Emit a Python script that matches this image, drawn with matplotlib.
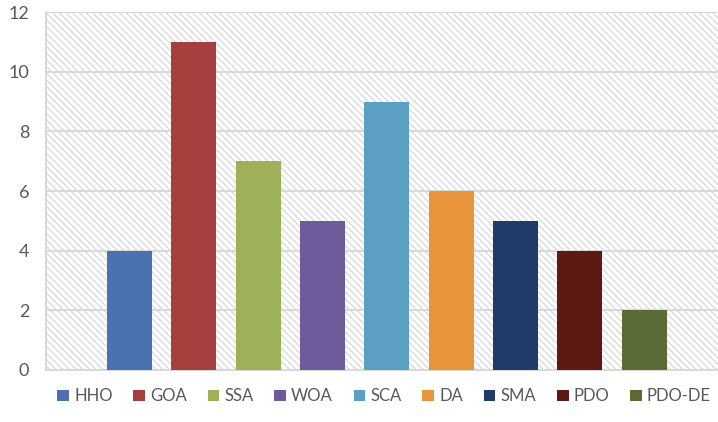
import matplotlib.pyplot as plt
from matplotlib.patches import Rectangle

ALGORITHMS = ["HHO", "GOA", "SSA", "WOA", "SCA", "DA", "SMA", "PDO", "PDO-DE"]
COUNTS = [4, 11, 7, 5, 9, 6, 5, 4, 2]
COLORS = ["#4a72b2", "#a5403f", "#9eb058", "#6f5b9c", "#5ba0c4",
          "#e8943a", "#1f3c68", "#5b1a13", "#5b6b35"]
Y_TICKS = [0, 2, 4, 6, 8, 10, 12]

GRID = "#d9d9d9"
TEXT = "#595959"

plt.rcParams["font.family"] = ["Lato", "DejaVu Sans"]
plt.rcParams["hatch.linewidth"] = 0.9
plt.rcParams["hatch.color"] = GRID

fig = plt.figure(figsize=(7.18, 4.22), dpi=100)
ax = fig.add_axes([46 / 718, 52 / 422, 1 - 46 / 718, 358 / 422])

# hatched plot background
ax.add_patch(Rectangle((0, 0), 1, 1, transform=ax.transAxes, facecolor="white",
                       edgecolor=GRID, hatch="\\\\\\\\\\", lw=0, zorder=0))

for i, (name, val, col) in enumerate(zip(ALGORITHMS, COUNTS, COLORS)):
    ax.bar(i, val, width=0.7, color=col, label=name, zorder=3)

ax.set_xlim(-1.3, 9.15)
ax.set_ylim(0, 12)
ax.set_yticks(Y_TICKS)
ax.set_xticks([])
ax.yaxis.grid(True, color=GRID, lw=1.5, zorder=1)
ax.set_axisbelow(True)
ax.tick_params(axis="y", length=0, pad=12, labelsize=13, labelcolor=TEXT)

for side in ["top", "right"]:
    ax.spines[side].set_visible(False)
ax.spines["left"].set_color(GRID)
ax.spines["left"].set_linewidth(1.5)
ax.spines["bottom"].set_color(GRID)
ax.spines["bottom"].set_linewidth(1.5)

fig.legend(loc="center", bbox_to_anchor=(0.535, 0.061), ncol=9, frameon=False,
           handlelength=0.7, handleheight=0.7, handletextpad=0.3,
           columnspacing=1.25, fontsize=12, labelcolor=TEXT)

fig.savefig("out.png", dpi=100)
